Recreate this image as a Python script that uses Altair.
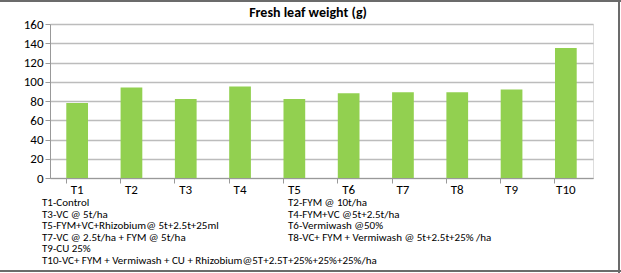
import altair as alt
import pandas as pd

# Treatments and fresh leaf weight (g)
treatments = ["T1", "T2", "T3", "T4", "T5", "T6", "T7", "T8", "T9", "T10"]
leaf_weight = [78, 94, 82, 95, 82, 88, 89, 89, 92, 135]

y_ticks = [0, 20, 40, 60, 80, 100, 120, 140, 160]

chart_title = ["Fresh leaf weight (g)"]

# Treatment key printed under the chart (two columns)
key_text = [
    "T1-Control",
    "T2-FYM @ 10t/ha",
    "T3-VC @ 5t/ha",
    "T4-FYM+VC @5t+2.5t/ha",
    "T5-FYM+VC+Rhizobium@ 5t+2.5t+25ml",
    "T6-Vermiwash @50%",
    "T7-VC @ 2.5t/ha + FYM @ 5t/ha",
    "T8-VC+ FYM  + Vermiwash @ 5t+2.5t+25% /ha",
    "T9-CU 25%",
    "T10-VC+ FYM + Vermiwash + CU + Rhizobium@5T+2.5T+25%+25%+25%/ha",
]
key_col = [0, 1, 0, 1, 0, 1, 0, 1, 0, 0]
key_row = [0, 0, 1, 1, 2, 2, 3, 3, 4, 5]

FONT = "Carlito, Liberation Sans Narrow, DejaVu Sans Condensed, Liberation Sans, sans-serif"
GREEN = "#92d050"
GRID = "#bcbcbc"

W, H = 543, 154
PAD_L, PAD_T = 50, 24

bars_df = pd.DataFrame({"treatment": treatments, "weight": leaf_weight})
key_df = pd.DataFrame({"label": key_text, "col": key_col, "row": key_row})
title_df = pd.DataFrame({"label": chart_title})

bars = alt.Chart(bars_df).mark_bar(color=GREEN).encode(
    x=alt.X(
        "treatment:N",
        sort=treatments,
        title=None,
        scale=alt.Scale(paddingInner=0.6, paddingOuter=0.3),
        axis=alt.Axis(
            labelAngle=0,
            labelFont=FONT,
            labelFontSize=13,
            labelColor="#000000",
            labelPadding=0,
            domainColor="#999999",
            tickColor="#999999",
            tickSize=5,
            bandPosition=0,
            grid=False,
        ),
    ),
    y=alt.Y(
        "weight:Q",
        title=None,
        scale=alt.Scale(domain=[0, 160], nice=False),
        axis=alt.Axis(
            values=y_ticks,
            labelFont=FONT,
            labelFontSize=13,
            labelColor="#000000",
            labelPadding=2,
            domainColor="#999999",
            tickColor="#999999",
            tickSize=5,
            gridColor=GRID,
            gridWidth=1.5,
        ),
    ),
)

key = alt.Chart(key_df).mark_text(
    align="left", baseline="middle", font=FONT, fontSize=11, color="#000000"
).encode(
    x=alt.X("col:Q", scale=alt.Scale(domain=[0, 1], range=[-8, 238]), axis=None),
    y=alt.Y("row:Q", scale=alt.Scale(domain=[0, 5], range=[179, 237]), axis=None),
    text="label:N",
)

title = alt.Chart(title_df).mark_text(
    align="center", baseline="middle", font=FONT, fontSize=14, fontWeight="bold", color="#000000"
).encode(
    x=alt.value(308 - PAD_L),
    y=alt.value(13 - PAD_T),
    text="label:N",
)

# Outer frame lines (top, right, bottom)
frame_top = alt.Chart(bars_df).mark_rule(color="#6b6b6b", strokeWidth=2).encode(
    x=alt.value(-PAD_L), x2=alt.value(621 - PAD_L), y=alt.value(-PAD_T + 1)
)
frame_right = alt.Chart(bars_df).mark_rule(color="#6b6b6b", strokeWidth=2).encode(
    x=alt.value(619 - PAD_L), y=alt.value(-PAD_T), y2=alt.value(273 - PAD_T)
)
frame_bottom = alt.Chart(bars_df).mark_rule(color="#6b6b6b", strokeWidth=2).encode(
    x=alt.value(-PAD_L), x2=alt.value(621 - PAD_L), y=alt.value(271 - PAD_T)
)

chart = (
    alt.layer(bars, key, title, frame_top, frame_right, frame_bottom)
    .resolve_scale(x="independent", y="independent")
    .properties(
        width=W,
        height=H,
        padding={"left": PAD_L, "top": PAD_T, "right": 621 - PAD_L - W, "bottom": 273 - PAD_T - H},
        autosize=alt.AutoSizeParams(type="none"),
    )
    .configure_view(stroke=None)
    .configure(background="white")
)

chart.save("out.html", embed_options={"renderer": "svg", "actions": False})
